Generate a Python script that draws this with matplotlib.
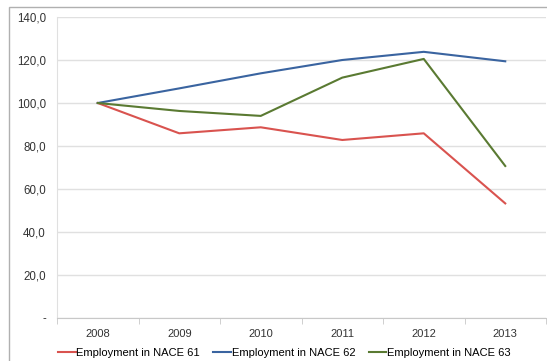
import matplotlib
matplotlib.use("Agg")
import matplotlib.pyplot as plt
from matplotlib.patches import Rectangle
import numpy as np

years = ["2008", "2009", "2010", "2011", "2012", "2013"]
nace61 = [100.0, 85.9, 88.7, 82.8, 85.9, 53.3]
nace62 = [100.0, 106.8, 113.8, 120.0, 123.8, 119.4]
nace63 = [100.0, 96.3, 94.0, 111.8, 120.5, 70.7]
series_labels = ["Employment in NACE 61", "Employment in NACE 62", "Employment in NACE 63"]
yticks = [0, 20, 40, 60, 80, 100, 120, 140]
ytick_labels = ["-", "20,0", "40,0", "60,0", "80,0", "100,0", "120,0", "140,0"]

plt.rcParams['font.family'] = ['Liberation Sans', 'DejaVu Sans']

fig = plt.figure(figsize=(5.47, 3.61), dpi=100)
fig.patches.append(Rectangle((9/547, -0.05), 1.0, 1 - 7/361 + 0.05, transform=fig.transFigure,
                             fill=False, edgecolor='#b0b0b0', linewidth=1.0))
ax = fig.add_axes([57/547, 1 - 318/361, 489/547, 301/361])

x = np.arange(len(years))
colors = ['#d9534f', '#3a64a0', '#5a7a32']
for vals, lab, c in zip([nace61, nace62, nace63], series_labels, colors):
    ax.plot(x, vals, color=c, linewidth=1.5, label=lab)

ax.set_xlim(-0.5, len(years) - 0.5)
ax.set_ylim(0, 140)
ax.set_yticks(yticks)
ax.set_yticklabels(ytick_labels)
ax.set_xticks(x)
ax.set_xticklabels(years)
ax.set_xticks(np.arange(-0.5, len(years)), minor=True)
ax.tick_params(axis='x', which='major', length=0, pad=8, labelsize=8, colors='#333333')
ax.tick_params(axis='x', which='minor', length=4, color='#c8c8c8')
ax.tick_params(axis='y', length=0, pad=8, labelsize=8.3, colors='#333333')

ax.grid(axis='y', color='#e0e0e0', linewidth=1.0)
ax.set_axisbelow(True)
for s in ['top', 'right']:
    ax.spines[s].set_visible(False)
ax.spines['left'].set_color('#e0e0e0')
ax.spines['bottom'].set_color('#c8c8c8')

ax.legend(loc='upper center', bbox_to_anchor=(0.465, -0.085), ncol=3, frameon=False,
          fontsize=8, handlelength=1.6, handletextpad=0.05, columnspacing=1.2,
          borderaxespad=0)

fig.savefig("out.png", dpi=100)
